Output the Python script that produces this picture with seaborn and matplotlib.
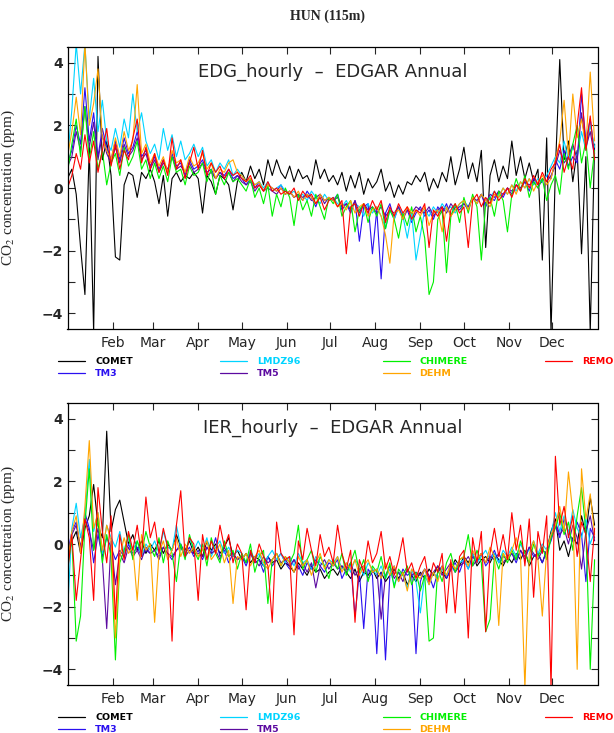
import matplotlib
matplotlib.use("Agg")
import matplotlib.pyplot as plt
import matplotlib.dates as mdates
from matplotlib.lines import Line2D
import numpy as np
import pandas as pd
import seaborn as sns

W, H = 614, 733

MODELS = ["COMET", "TM3", "LMDZ96", "TM5", "CHIMERE", "DEHM", "REMO"]
COLORS = {"COMET": "#000000", "TM3": "#2a10f0", "LMDZ96": "#00d4ff", "TM5": "#5c0aa0",
          "CHIMERE": "#00f000", "DEHM": "#ffa500", "REMO": "#ff0000"}

# one value every 3 days, Jan 1 .. Dec 30
DATES = pd.date_range("2005-01-01", periods=122, freq="3D")

# ---- EDG_hourly - EDGAR Annual ----
EDG_COMET = [0.3, 0.6, -0.2, -1.9, -3.4, 1.3, -4.6, 4.2, 0.9, 1.5, 0.4,
             -2.2, -2.3, 0.1, 0.5, 0.4, -0.3, 0.5, 0.3, 0.6,
             0.2, -0.5, 0.4, -0.9, 0.3, 0.5, 0.2, 0.4, 0.3, 0.5,
             0.3, -0.8, 0.4, 0.2, -0.2, 0.4, 0.3, 0.1, -0.7, 0.2,
             0.5, 0.2, 0.7, 0.3, 0.6, 0.1, 0.9, 0.4, 0.9, 0.5, 0.3,
             0.7, 0.2, 0.6, 0.3, 0.4, 0.1, 0.9, 0.3, 0.6, 0.2,
             0.4, 0.1, 0.5, -0.1, 0.4, 0.0, 0.5, -0.2, 0.3, 0.0,
             0.2, 0.6, -0.1, 0.2, -0.3, 0.1, -0.2, 0.2, 0.1, 0.4,
             0.2, 0.5, -0.1, 0.3, 0.0, 0.5, 0.2, 1.0, 0.1, 0.6,
             1.3, 0.3, 0.8, 0.2, 1.2, -1.9, 0.4, 0.9, 0.2, 0.7, 0.3,
             1.5, 0.4, 1.0, 0.3, 0.8, 0.2, 0.6, -2.3, 1.6, -4.6,
             0.6, 4.1, 0.9, 1.5, 0.2, 1.2, -2.1, 1.0, -4.6, 1.4]
EDG_TM3 = [0.8, 1.2, 2.0, 1.4, 3.2, 1.5, 2.4, 1.0, 1.9, 1.3, 0.9,
           1.5, 0.9, 1.6, 1.1, 1.3, 1.8, 1.0, 1.2, 0.7,
           1.0, 0.6, 0.9, 0.5, 1.1, 0.7, 0.8, 0.4, 0.9, 0.6,
           0.7, 0.9, 0.5, 0.6, 0.3, 0.5, 0.4, 0.6, 0.3, 0.4,
           0.3, 0.1, 0.3, 0.0, 0.2, -0.1, 0.1, 0.0, -0.1, 0.1, -0.2,
           -0.1, -0.3, -0.2, -0.4, -0.1, -0.3, -0.6, -0.2, -0.4, -0.3,
           -0.4, -0.2, -0.7, -0.5, -0.8, -0.4, -1.7, -0.6, -0.5, -2.1,
           -0.7, -2.9, -0.8, -0.5, -1.0, -0.6, -0.9, -0.7, -1.1, -0.8,
           -0.6, -0.9, -0.7, -1.0, -0.6, -0.8, -0.5, -0.9, -0.6, -0.7,
           -0.5, -0.7, -0.3, -0.5, -0.2, -0.6, -0.3, -0.4, -0.1, -0.3, 0.0,
           -0.2, 0.1, 0.0, 0.2, -0.1, 0.3, 0.1, 0.2, 0.4, 0.3,
           0.9, 0.6, 1.2, 0.7, 1.0, 0.8, 3.0, 1.5, 2.2, 1.1]
EDG_LMDZ96 = [0.9, 2.5, 4.6, 3.0, 4.6, 2.2, 3.5, 1.8, 2.8, 1.5, 1.2,
              1.9, 1.3, 2.2, 1.6, 3.0, 1.8, 2.4, 1.5, 1.1,
              1.4, 0.9, 1.9, 1.2, 1.7, 1.0, 1.5, 0.9, 1.1, 1.4,
              1.0, 1.3, 0.7, 0.9, 0.5, 0.8, 0.6, 0.9, 0.4, 0.6,
              0.4, 0.2, 0.3, 0.1, 0.2, 0.0, 0.2, -0.1, 0.0, 0.1, -0.1,
              -0.2, -0.1, -0.3, -0.2, -0.4, -0.1, -0.3, -0.5, -0.2, -0.4,
              -0.3, -0.5, -0.6, -0.4, -0.7, -0.5, -0.6, -0.9, -0.5, -0.8,
              -0.6, -0.9, -1.3, -0.7, -1.0, -0.6, -0.9, -1.6, -0.8, -2.3,
              -1.5, -0.7, -0.9, -0.6, -0.8, -0.5, -0.7, -0.6, -0.8, -0.5,
              -0.4, -0.6, -0.3, -0.5, -0.2, -0.4, -0.3, -0.1, -0.3, 0.0, -0.2,
              0.1, -0.1, 0.2, 0.0, 0.3, 0.1, 0.3, 0.2, 0.4, 0.7,
              1.0, 0.8, 1.5, 0.9, 1.3, 1.0, 1.8, 1.2, 2.0, 1.3]
EDG_TM5 = [0.7, 1.0, 1.8, 1.2, 2.6, 1.3, 2.1, 0.9, 1.7, 1.1, 0.8,
           1.3, 0.8, 1.4, 1.0, 1.2, 1.6, 0.9, 1.1, 0.6,
           0.9, 0.5, 0.8, 0.6, 1.0, 0.6, 0.7, 0.5, 0.8, 0.5,
           0.6, 0.8, 0.4, 0.5, 0.3, 0.5, 0.3, 0.5, 0.2, 0.4,
           0.2, 0.1, 0.2, -0.1, 0.1, -0.1, 0.0, -0.1, -0.2, 0.0, -0.2,
           -0.1, -0.3, -0.2, -0.3, -0.2, -0.4, -0.3, -0.2, -0.5, -0.3,
           -0.4, -0.3, -0.6, -0.5, -0.7, -0.4, -0.8, -0.5, -0.7, -0.6,
           -0.8, -0.6, -0.9, -0.7, -0.8, -0.6, -1.0, -0.7, -0.8, -0.6,
           -0.7, -0.8, -0.6, -0.9, -0.7, -0.6, -0.8, -0.5, -0.7, -0.6,
           -0.5, -0.6, -0.3, -0.4, -0.2, -0.5, -0.2, -0.3, -0.1, -0.2, 0.0,
           -0.1, 0.1, 0.0, 0.2, 0.1, 0.2, 0.0, 0.3, 0.2, 0.4,
           0.7, 1.2, 0.8, 1.0, 1.4, 0.9, 2.4, 1.3, 1.8, 1.0]
EDG_CHIMERE = [0.5, 1.4, 2.2, 1.0, 2.6, 0.9, 1.8, 0.6, 1.2, 0.1, 0.8,
               1.1, 0.4, 1.3, 0.7, 1.0, 1.5, 0.6, 0.9, 0.3,
               0.8, 0.3, 0.7, 0.2, 1.0, 0.5, 0.6, 0.1, 0.7, 0.4,
               0.5, 0.8, 0.2, 0.6, -0.2, 0.4, 0.1, 0.5, 0.2, 0.3,
               0.1, -0.1, 0.3, -0.3, 0.0, -0.5, 0.1, -0.9, -0.2, -0.6, 0.0,
               -0.3, -1.2, -0.2, -0.7, -0.4, -0.9, -0.2, -0.6, -1.0, -0.3,
               -0.5, -0.2, -0.9, -0.6, -0.4, -1.4, -0.7, -0.5, -1.1, -0.6,
               -0.9, -0.5, -1.3, -0.7, -1.0, -1.6, -0.8, -1.2, -0.6, -1.4,
               -0.9, -1.6, -3.4, -3.0, -1.0, -0.7, -2.7, -0.9, -0.5, -1.1,
               -0.3, -0.8, -0.2, -0.6, -2.3, -0.5, -0.3, -0.9, -0.1, -0.4, -1.4,
               -0.2, 0.3, -0.1, 0.4, -0.3, 0.2, 0.0, 0.3, -0.4, 0.1,
               0.4, -0.2, 1.1, 0.6, 1.4, 2.0, 0.8, 1.5, 0.0, 1.2]
EDG_DEHM = [1.0, 1.8, 2.9, 1.7, 4.6, 2.0, 2.7, 3.8, 1.6, 1.2, 0.9,
            1.6, 1.0, 1.8, 1.2, 1.5, 3.3, 1.1, 1.4, 0.8,
            1.1, 0.7, 1.0, 0.5, 1.2, 0.8, 0.9, 0.5, 1.0, 0.7,
            0.8, 1.1, 0.6, 0.8, 0.3, 0.6, 0.5, 0.8, 0.9, 0.5,
            0.4, 0.2, 0.3, 0.1, 0.2, -0.1, 0.1, 0.0, -0.1, 0.0, -0.2,
            -0.1, -0.3, -0.1, -0.4, -0.2, -0.3, -0.5, -0.2, -0.4, -0.3,
            -0.4, -0.6, -0.5, -0.7, -0.4, -0.8, -0.6, -0.5, -0.9, -0.7,
            -0.6, -0.9, -1.5, -2.4, -0.8, -0.7, -1.0, -0.6, -0.8, -0.7,
            -0.9, -0.6, -1.2, -0.8, -0.7, -1.4, -0.6, -0.9, -0.7, -0.5,
            -0.4, -0.7, -0.3, -0.5, -0.2, -0.4, -0.6, -0.2, -0.3, 0.0, -0.2,
            0.1, -0.2, 0.2, 0.0, 0.3, -0.1, 0.2, 0.4, 0.1, 0.3,
            0.9, 1.5, 2.8, 1.0, 3.0, 1.6, 2.2, 1.3, 3.7, 1.5]
EDG_REMO = [0.0, 0.4, 1.1, 0.6, 1.7, 0.8, 1.5, 0.5, 1.2, 1.9, 0.7,
            1.4, 0.6, 1.2, 0.9, 1.6, 2.2, 0.8, 1.3, 0.6,
            1.1, 0.5, 0.9, 0.4, 1.6, 0.6, 0.9, 0.3, 0.8, 1.3,
            0.6, 1.2, 0.4, 0.8, 0.5, 0.7, 0.3, 0.6, 0.4, 0.5,
            0.3, 0.2, 0.4, 0.0, 0.1, -0.1, 0.2, -0.1, 0.0, -0.2, -0.1,
            -0.2, 0.0, -0.4, -0.1, -0.3, -0.2, -0.5, -0.3, -0.7, -0.4,
            -0.3, -0.6, -0.4, -2.1, -0.6, -0.5, -0.9, -0.5, -0.8, -0.4,
            -0.7, -0.4, -1.1, -0.6, -0.9, -0.5, -0.8, -0.6, -1.0, -0.7,
            -0.8, -0.5, -1.9, -0.7, -0.9, -0.6, -1.7, -0.7, -0.5, -0.8,
            -0.6, -1.9, -0.4, -0.2, -0.6, -0.3, -0.5, -0.1, -0.4, -0.2, 0.0,
            -0.3, 0.1, -0.1, 0.3, 0.0, 0.4, 0.1, 0.5, 0.2, 0.6,
            0.8, 1.4, 0.5, 1.0, 0.6, 2.0, 3.2, 1.2, 2.3, 0.9]

# ---- IER_hourly - EDGAR Annual ----
IER_COMET = [-0.5, 0.1, 0.4, -0.3, 0.5, 0.9, 1.9, 0.6, 0.2, 3.6, 0.4,
             1.1, 1.4, 0.7, 0.0, 0.3, -0.2, 0.1, -0.3, 0.0,
             -0.2, 0.1, -0.3, 0.0, -0.2, 0.3, -0.1, -0.2, 0.1, -0.3,
             -0.1, -0.4, 0.1, -0.2, 0.0, -0.3, -0.1, 0.2, -0.4, -0.2,
             -0.5, -0.3, -0.6, -0.4, -0.5, -0.7, -0.4, -0.6, -0.5, -0.8, -0.6,
             -0.7, -0.9, -0.6, -0.8, -1.0, -0.7, -0.9, -0.8, -1.1, -0.9,
             -0.8, -1.0, -0.7, -0.9, -1.1, -0.8, -1.2, -0.9, -1.0, -0.8,
             -1.1, -0.9, -1.2, -1.0, -0.8, -1.1, -0.9, -1.3, -1.0, -1.2,
             -0.9, -1.1, -0.8, -1.0, -0.7, -0.9, -1.1, -0.8, -0.5, -0.7,
             -0.4, -0.6, -0.3, -0.7, -0.5, -0.4, -0.6, -0.3, -0.5, -0.7, -0.4,
             -0.6, -0.3, -0.5, -0.2, -0.7, -0.4, -0.3, -0.6, -0.2, 0.4,
             0.8, -0.2, 0.1, -0.4, 0.2, 0.0, 0.9, 0.3, 1.5, 0.6]
IER_TM3 = [-0.3, 0.4, 0.7, -0.2, 1.0, 0.5, -0.6, 0.3, -0.4, 0.2, -0.1,
           -0.5, -0.2, -0.4, 0.0, -0.3, -0.1, -0.4, -0.2, -0.3,
           -0.2, -0.4, -0.1, -0.3, -0.5, -0.2, 0.0, -0.3, -0.1, -0.4,
           -0.2, -0.5, -0.1, -0.3, 0.2, -0.4, -0.2, -0.6, -0.3, -0.5,
           -0.4, -0.7, -0.3, -0.6, -0.5, -0.9, -0.4, -0.7, -0.5, -0.3, -0.6,
           -0.8, -0.5, -0.7, -1.0, -0.6, -0.8, -0.5, -0.7, -0.9, -0.6,
           -0.7, -0.5, -1.1, -0.8, -0.6, -2.3, -0.9, -2.7, -0.8, -1.0,
           -3.5, -0.9, -3.7, -1.0, -0.7, -1.2, -0.8, -1.0, -0.9, -3.5,
           -1.2, -0.8, -1.0, -1.4, -0.9, -0.7, -1.1, -0.8, -0.6, -0.9,
           -0.5, -0.8, -0.4, -0.6, -0.3, -0.7, -0.5, -0.2, -0.6, -0.4, -0.5,
           -0.3, -0.6, -0.2, -0.5, -0.1, -0.4, -0.3, -0.6, -0.2, 0.1,
           0.6, 0.2, 0.8, 0.4, 0.1, 0.7, 0.3, -1.2, 0.5, 0.2]
IER_LMDZ96 = [-2.2, 0.5, 1.3, 0.2, 0.9, 2.7, 0.4, 1.0, -0.3, 0.6, 0.2,
              -0.1, 0.4, -0.3, 0.2, -0.2, 0.1, -0.4, 0.0, -0.2,
              0.1, -0.3, 0.4, -0.1, -0.2, 0.6, -0.1, -0.3, 0.2, -0.2,
              0.1, -0.2, 0.2, -0.4, -0.1, 0.1, -0.3, -0.1, -0.4, -0.2,
              -0.3, -0.6, -0.2, -0.5, -0.3, -0.7, -0.4, -0.2, -0.5, -0.3, -0.6,
              -0.4, -0.7, -0.3, -0.6, -0.5, -0.8, -0.4, -0.6, -0.7, -0.5,
              -0.6, -0.4, -0.8, -0.6, -0.9, -0.5, -0.7, -1.0, -0.6, -0.8,
              -1.0, -0.7, -1.1, -0.8, -1.3, -0.9, -1.0, -1.4, -0.8, -1.2,
              -2.2, -1.0, -1.3, -0.9, -1.1, -0.8, -1.0, -0.7, -0.9, -0.6,
              -0.5, -0.8, -0.3, -0.6, -0.4, -0.2, -0.5, -0.3, -0.6, -0.2, -0.4,
              -0.1, -0.4, 0.0, -0.3, -0.2, 0.1, -0.3, 0.0, -0.2, 0.3,
              1.0, 0.4, 0.9, 0.3, 1.1, 0.5, 0.2, 0.8, 0.0, 0.4]
IER_TM5 = [-0.4, 0.3, 0.6, -0.1, 0.8, 0.4, -0.2, 0.5, -0.5, -2.7, 0.1,
           -1.3, -0.3, -0.6, -0.1, -0.4, -0.2, -0.5, -0.1, -0.3,
           -0.2, -0.5, -0.1, -0.3, -0.4, -0.2, -0.1, -0.4, -0.2, -0.3,
           -0.3, -0.4, -0.1, -0.3, -0.2, -0.5, -0.1, -0.4, -0.3, -0.5,
           -0.4, -0.6, -0.3, -0.5, -0.7, -0.4, -0.6, -0.5, -0.3, -0.6, -0.5,
           -0.7, -0.5, -0.8, -0.6, -0.9, -0.6, -1.4, -0.7, -0.5, -0.8,
           -0.6, -0.8, -0.7, -0.9, -0.6, -1.0, -0.8, -0.7, -1.1, -0.9,
           -0.8, -2.4, -1.0, -0.7, -1.1, -0.9, -1.2, -0.8, -1.0, -0.9,
           -1.0, -0.8, -1.1, -0.9, -0.7, -1.0, -0.8, -0.6, -0.9, -0.7,
           -0.6, -0.4, -0.7, -0.5, -0.3, -0.6, -0.4, -0.5, -0.3, -0.6, -0.4,
           -0.3, -0.5, -0.2, -0.4, -0.1, -0.3, -0.5, -0.2, -0.3, 0.2,
           0.7, 0.3, 0.5, 0.0, 0.6, 0.2, -0.8, 0.4, 0.9, 0.1]
IER_CHIMERE = [-0.8, 0.2, -3.1, -2.3, 0.6, 2.4, -0.2, 0.8, -0.6, 0.3, -0.4,
               -3.7, -0.6, -0.2, 0.3, -0.5, 0.1, -0.3, 0.4, -0.1,
               -0.4, 0.2, -0.6, 0.1, -0.3, -1.2, 0.0, -0.5, 0.3, -0.2,
               -0.5, 0.0, -0.7, 0.2, -0.3, -0.6, 0.1, -0.4, -0.2, -0.8,
               -0.3, -0.6, 0.0, -0.9, -0.4, -0.2, -1.9, -0.5, -0.3, -0.7, -0.4,
               -0.6, -0.3, 0.6, -0.8, -0.5, -0.2, -0.9, -0.4, -0.7, -1.1,
               -0.5, -0.8, -0.3, -1.0, -0.6, -0.2, -0.9, -0.5, -1.2, -0.7,
               -0.9, -0.4, -1.1, -0.6, -1.4, -0.8, -1.0, -0.7, -1.3, -0.9,
               -1.5, -1.0, -3.1, -3.0, -0.8, -1.2, -0.6, -0.3, -0.9, -0.5,
               -0.4, 0.3, -0.7, -0.2, -0.6, -2.8, -2.4, -0.4, -0.8, -0.3, -0.6,
               -0.2, -0.5, 0.1, -0.3, -0.6, 0.0, -0.4, -0.1, -0.5, 0.2,
               0.5, 1.0, 0.3, 0.7, -0.2, 0.9, 1.8, 0.4, -4.0, -0.5]
IER_DEHM = [-0.6, 0.4, 0.9, -0.3, 1.2, 3.3, 0.5, 1.0, -0.2, 0.6, 0.1,
            -3.0, -0.4, 0.2, -0.3, -0.1, -1.8, 0.3, -0.2, 0.0,
            -2.5, -0.3, 0.1, -0.5, -0.2, 0.2, -0.4, 0.0, -0.3, -0.1,
            -0.4, -0.2, 0.1, -0.5, -0.3, 0.0, -0.6, -0.2, -1.9, -0.4,
            -0.5, -0.3, -0.7, -0.4, -0.2, -0.6, -0.8, -0.5, -0.3, -0.7, -0.4,
            -0.6, -0.9, -0.4, -0.7, -0.5, -1.0, -0.6, -0.3, -0.8, -0.5,
            -0.7, -0.4, -0.9, -0.6, -0.8, -0.5, -1.0, -0.7, -0.5, -0.9,
            -0.8, -1.1, -0.6, -1.0, -0.7, -1.2, -0.9, -1.5, -0.8, -1.0,
            -1.1, -0.8, -1.3, -0.9, -1.2, -0.7, -1.0, -0.6, -0.8, -0.5,
            -0.4, -0.7, -0.2, -0.5, -0.3, -0.6, -0.1, -0.4, -2.6, -0.3, -0.5,
            -0.2, 0.2, -0.4, -4.6, -0.3, 0.1, -0.5, -2.3, -0.2, 0.3,
            0.6, 1.2, 0.4, 2.3, 1.0, -4.0, 2.4, 0.8, 1.6, 0.3]
IER_REMO = [-0.9, 0.3, -1.8, -0.5, 0.8, 0.2, -1.8, 1.8, 0.4, -0.6, 0.9,
            -2.4, 0.3, -0.5, 0.4, -0.2, 0.6, -0.4, 1.5, 0.2,
            0.7, -0.3, 0.5, -0.1, -3.1, 0.6, 1.7, -0.4, 0.2, 0.0,
            -1.8, 0.3, -0.5, 0.1, -0.3, 0.6, -0.1, 0.3, -0.6, 0.0,
            -0.3, -2.1, -0.2, -0.6, 0.0, -0.4, -0.7, -2.5, 0.7, -0.3, -0.5,
            -0.4, -2.9, 0.1, -0.5, 0.5, -0.2, -0.7, 0.3, -0.4, -0.1,
            -0.6, 0.6, -0.3, -0.8, -0.2, -2.5, -0.5, -0.9, 0.1, -0.6,
            -0.3, 0.4, -0.8, -0.4, -1.0, -0.5, 0.2, -0.9, -0.6, -1.1,
            -0.7, -0.4, -1.2, -0.6, -0.9, -0.3, -2.2, -0.5, -2.2, -0.4,
            -0.2, -3.0, 0.2, -0.6, 0.4, -2.8, -0.3, 0.5, -0.4, 0.3, -0.5,
            1.0, -0.2, 0.6, -0.7, 0.8, -1.7, 0.4, -0.3, 0.9, -4.6,
            2.8, 0.6, 1.2, 0.2, 0.9, -0.4, 0.7, 0.3, -1.2, 0.5]

EDG = [EDG_COMET, EDG_TM3, EDG_LMDZ96, EDG_TM5, EDG_CHIMERE, EDG_DEHM, EDG_REMO]
IER = [IER_COMET, IER_TM3, IER_LMDZ96, IER_TM5, IER_CHIMERE, IER_DEHM, IER_REMO]


def to_frame(series):
    parts = []
    for name, vals in zip(MODELS, series):
        parts.append(pd.DataFrame({"date": DATES, "value": vals, "model": name}))
    return pd.concat(parts, ignore_index=True)


def draw_panel(ax, series, label):
    df = to_frame(series)
    sns.lineplot(data=df, x="date", y="value", hue="model", hue_order=MODELS,
                 palette=COLORS, estimator=None, sort=False, lw=0.8,
                 legend=False, ax=ax)
    ax.set_xlim(pd.Timestamp("2005-01-01"), pd.Timestamp("2006-01-01"))
    ax.set_ylim(-4.5, 4.5)
    ax.set_xticks(pd.date_range("2005-02-01", "2005-12-01", freq="MS"))
    ax.xaxis.set_major_formatter(mdates.DateFormatter("%b"))
    ax.set_yticks(np.arange(-4, 5, 2))
    ax.set_yticks(np.arange(-3, 4, 2), minor=True)
    ax.tick_params(which="both", direction="in", top=True, right=True,
                   length=5, width=0.8, labelsize=10)
    ax.tick_params(axis="x", pad=5)
    for t in ax.get_yticklabels():
        t.set_fontweight("bold")
    ax.set_xlabel("")
    ax.set_ylabel("CO$_2$ concentration (ppm)", fontfamily="Liberation Serif",
                  fontsize=11)
    ax.yaxis.set_label_coords(-0.095, 0.5)
    for sp in ax.spines.values():
        sp.set_linewidth(0.9)
        sp.set_color("black")
    ax.text(0.5, 0.911, label, transform=ax.transAxes, ha="center",
            va="center", fontsize=13)


def draw_legend(fig, y_row1):
    for i, name in enumerate(MODELS):
        col, row = i // 2, i % 2
        x0 = 58 + col * 162.3
        y = 1 - (y_row1 + row * 12) / H
        fig.add_artist(Line2D([x0 / W, (x0 + 27) / W], [y, y],
                              color=COLORS[name], lw=0.9))
        fig.text((x0 + 37) / W, y, name, color=COLORS[name], fontsize=6.8,
                 fontweight="bold", va="center", ha="left")


def main():
    sns.set_style("ticks")
    plt.rcParams["font.family"] = ["DejaVu Sans"]
    plt.rcParams["mathtext.fontset"] = "stix"

    fig = plt.figure(figsize=(W / 100, H / 100), dpi=100)
    ax1 = fig.add_axes([67.5 / W, 1 - 329 / H, 530 / W, 282 / H])
    ax2 = fig.add_axes([67.5 / W, 1 - 685 / H, 530 / W, 282 / H])

    draw_panel(ax1, EDG, "EDG_hourly  \u2013  EDGAR Annual")
    draw_panel(ax2, IER, "IER_hourly  \u2013  EDGAR Annual")

    draw_legend(fig, 361)
    draw_legend(fig, 717)

    fig.text(327 / W, 1 - 16 / H, "HUN (115m)", ha="center", va="center",
             fontfamily="Liberation Serif", fontweight="bold", fontsize=10)

    fig.savefig("out.png", dpi=100)


if __name__ == '__main__':
    main()
